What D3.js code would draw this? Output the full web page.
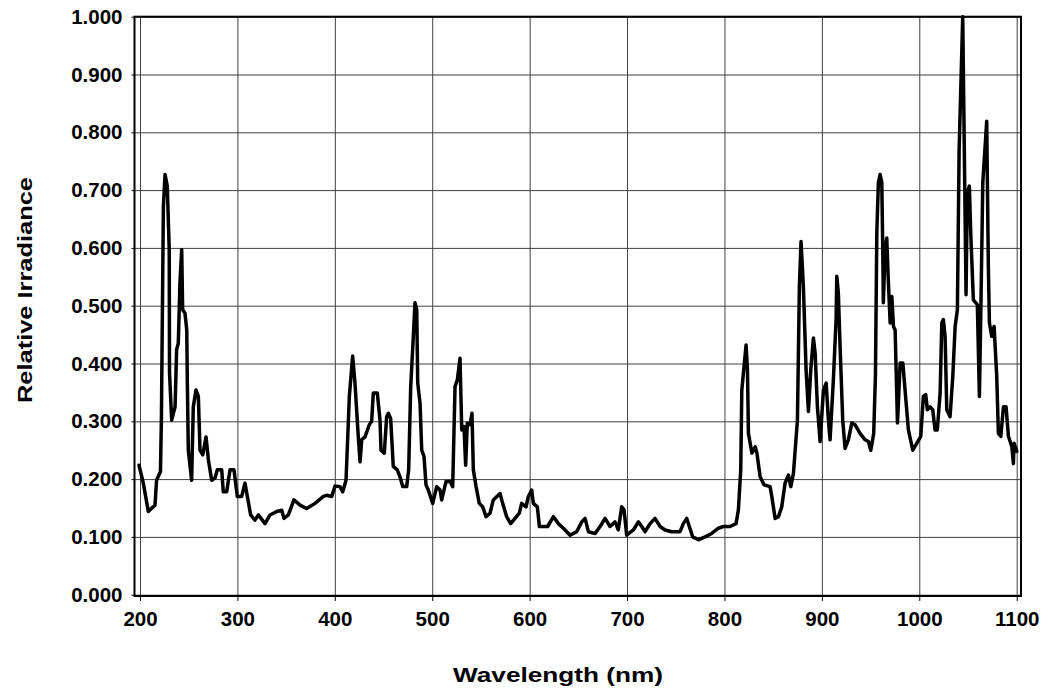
<!DOCTYPE html>
<html lang="en">
<head>
  <meta charset="UTF-8">
  <title>Relative Irradiance</title>
  <script src="https://d3js.org/d3.v7.min.js"></script>
  <style>
    body {
      margin: 0;
      background-color: #ffffff;
      font-family: 'Liberation Sans', Arial, sans-serif;
    }
    svg { display: block; }
    .axis text {
      font-family: 'Liberation Sans', Arial, sans-serif;
      font-weight: bold;
      font-size: 20.5px;
      fill: #000;
    }
    .axis path { display: none; }
    .axis line { stroke: #000; stroke-width: 1; }
    .grid line { stroke: #404040; stroke-width: 1; }
    .grid path { display: none; }
    .title {
      font-family: 'Liberation Sans', Arial, sans-serif;
      font-weight: bold;
      font-size: 21px;
      fill: #000;
    }
  </style>
</head>
<body>
  <svg width="1043" height="692"></svg>

  <script>
    // values
    const wavelength = [
      199, 203.4, 208.5, 215.4, 217, 221, 222, 224, 225.7, 228, 230, 230.3, 232.5, 236, 237.6, 239.3,
      241, 242.8, 243.8, 246.2, 248, 248.6, 249.6, 253, 254.7, 257.5, 259.9, 261.6, 264.4, 267.8, 270.2,
      273.6, 277, 279.4, 283.9, 285.5, 289, 292.4, 296.5, 299.9, 304.4, 307.8, 310.2, 313.6, 318, 321.5,
      328.3, 333.5, 340.3, 345.5, 347.8, 352.3, 358, 364.3, 371, 379.7, 388.2, 391.7, 396.8, 400.2, 405.3,
      408.1, 411.5, 414.9, 418.3, 420.7, 424.1, 425.9, 427.6, 431, 435.4, 437.8, 439.5, 443.6, 446.4, 447.4,
      450.8, 453.2, 454.9, 457.3, 460, 464.1, 466.9, 469.7, 473.8, 475.8, 477.9, 480.6, 482.3, 484.1, 485.1,
      487.5, 489.2, 491.6, 493.6, 496, 500.5, 504.6, 508, 509.7, 514.2, 518.3, 521, 523.4, 525.8, 528.5,
      530.3, 532.6, 534.3, 536, 538.8, 540.8, 542.2, 545, 548.3, 551.8, 555.2, 559.3, 562.7, 569.6, 572.3,
      576.4, 580.5, 585, 589.4, 591.8, 596.3, 598.7, 602.1, 603.8, 607.9, 610, 618.5, 624.4, 629.5, 634.6,
      641.5, 648.3, 653.5, 656.9, 660.3, 667.2, 672.3, 677.4, 682.5, 687.7, 691, 694.5, 696.9, 699.6, 706.5,
      711.6, 715.1, 718.5, 723.6, 728.7, 733.9, 739, 745.9, 754.4, 757.8, 761.3, 763.9, 767.4, 773.2, 780.1,
      786.9, 793.8, 798.9, 805.7, 811.9, 814.3, 816.7, 817.8, 820.1, 822.2, 823.6, 824.6, 828.2, 831.6, 833.3,
      836.6, 840.7, 846.8, 848.6, 852, 855.4, 858.8, 862.2, 865.7, 868.1, 870.8, 874.9, 876.9, 878.6, 881,
      883.8, 886.2, 888.6, 891.3, 893.1, 895.4, 898.2, 901.6, 904.4, 906.7, 908.4, 911.8, 914.6, 915.3, 916.9,
      918.7, 921.4, 923.8, 927.2, 930.7, 934.1, 939.2, 944.4, 947.8, 950.2, 953.2, 955, 956.4, 958, 959.8,
      961.5, 962.5, 963.1, 964.9, 966.6, 968.3, 970.1, 971.8, 973.5, 975.2, 977.6, 980.4, 983.1, 985.4, 988.8,
      993.3, 997.4, 1001.5, 1004.2, 1006.6, 1008.3, 1011.1, 1013.8, 1016.2, 1018.5, 1021.4, 1023.1, 1024.7, 1026.5, 1028.2,
      1031.6, 1034.4, 1036.8, 1039.1, 1040.9, 1044.6, 1048, 1049.3, 1051.4, 1052.8, 1055.5, 1059.6, 1061.7, 1063.1, 1065.2,
      1069.2, 1070.9, 1072, 1074.4, 1076.8, 1079.5, 1081.2, 1083.7, 1086.4, 1089.1, 1091.5, 1095, 1096.6, 1097.3, 1100.1
    ];
    const irradiance = [
      0.224, 0.193, 0.144, 0.155, 0.198, 0.213, 0.308, 0.672, 0.727, 0.707, 0.597, 0.384, 0.302, 0.325, 0.424, 0.435,
      0.539, 0.597, 0.493, 0.487, 0.458, 0.366, 0.250, 0.198, 0.325, 0.354, 0.343, 0.250, 0.242, 0.273, 0.233,
      0.198, 0.202, 0.216, 0.216, 0.178, 0.178, 0.216, 0.216, 0.170, 0.170, 0.193, 0.170, 0.138, 0.129, 0.138,
      0.123, 0.138, 0.144, 0.146, 0.132, 0.138, 0.164, 0.155, 0.149, 0.158, 0.170, 0.172, 0.170, 0.188, 0.187,
      0.178, 0.198, 0.343, 0.413, 0.366, 0.273, 0.230, 0.268, 0.273, 0.294, 0.300, 0.349, 0.349, 0.302, 0.250,
      0.245, 0.308, 0.314, 0.305, 0.222, 0.216, 0.204, 0.187, 0.187, 0.216, 0.360, 0.447, 0.505, 0.493, 0.366,
      0.331, 0.250, 0.239, 0.190, 0.181, 0.158, 0.187, 0.181, 0.164, 0.196, 0.196, 0.187, 0.360, 0.372, 0.409,
      0.285, 0.291, 0.224, 0.297, 0.294, 0.314, 0.216, 0.187, 0.158, 0.152, 0.135, 0.141, 0.164, 0.175, 0.158,
      0.135, 0.123, 0.132, 0.141, 0.158, 0.152, 0.170, 0.181, 0.158, 0.152, 0.118, 0.118, 0.135, 0.123, 0.115,
      0.103, 0.109, 0.126, 0.132, 0.109, 0.106, 0.118, 0.132, 0.118, 0.126, 0.112, 0.152, 0.147, 0.103, 0.112,
      0.126, 0.118, 0.109, 0.123, 0.132, 0.118, 0.112, 0.109, 0.109, 0.123, 0.132, 0.118, 0.100, 0.095, 0.100,
      0.106, 0.115, 0.118, 0.118, 0.123, 0.147, 0.216, 0.354, 0.395, 0.432, 0.389, 0.279, 0.245, 0.256, 0.245,
      0.204, 0.190, 0.187, 0.170, 0.132, 0.135, 0.152, 0.193, 0.207, 0.187, 0.210, 0.302, 0.533, 0.611, 0.533,
      0.389, 0.317, 0.389, 0.444, 0.418, 0.325, 0.265, 0.354, 0.366, 0.302, 0.268, 0.372, 0.476, 0.551, 0.522,
      0.429, 0.302, 0.253, 0.268, 0.297, 0.294, 0.279, 0.268, 0.265, 0.250, 0.279, 0.380, 0.626, 0.713, 0.727,
      0.713, 0.597, 0.505, 0.597, 0.617, 0.539, 0.470, 0.516, 0.464, 0.458, 0.297, 0.401, 0.401, 0.354, 0.285,
      0.250, 0.262, 0.274, 0.343, 0.346, 0.320, 0.325, 0.320, 0.285, 0.285, 0.349, 0.470, 0.476, 0.447, 0.320,
      0.308, 0.378, 0.464, 0.493, 0.770, 1.000, 0.519, 0.695, 0.707, 0.626, 0.510, 0.502, 0.343, 0.481, 0.713,
      0.819, 0.568, 0.470, 0.447, 0.464, 0.378, 0.279, 0.274, 0.325, 0.325, 0.274, 0.256, 0.227, 0.262, 0.248
    ];
    const xTicks = [200, 300, 400, 500, 600, 700, 800, 900, 1000, 1100];
    const yTicks = [0, 0.1, 0.2, 0.3, 0.4, 0.5, 0.6, 0.7, 0.8, 0.9, 1.0];

    const frame = { left: 134.5, right: 1021, top: 16.7, bottom: 596 };

    const svg = d3.select("svg");

    const x = d3.scaleLinear().domain([200, 1100]).range([140, 1016.7]);
    const y = d3.scaleLinear().domain([0, 1]).range([594.7, 16.7]);

    // grid
    svg.append("g")
      .attr("class", "grid")
      .attr("transform", `translate(0,${frame.bottom})`)
      .call(d3.axisBottom(x).tickValues(xTicks).tickSize(-(frame.bottom - frame.top)).tickFormat(""));

    svg.append("g")
      .attr("class", "grid")
      .attr("transform", `translate(${frame.left},0)`)
      .call(d3.axisLeft(y).tickValues(yTicks).tickSize(-(frame.right - frame.left)).tickFormat(""));

    // data line
    const points = wavelength.map((w, i) => [w, irradiance[i]]);
    svg.append("path")
      .datum(points)
      .attr("fill", "none")
      .attr("stroke", "#000")
      .attr("stroke-width", 3.5)
      .attr("stroke-linejoin", "round")
      .attr("stroke-linecap", "round")
      .attr("d", d3.line().x(d => x(d[0])).y(d => y(d[1])));

    // frame
    svg.append("rect")
      .attr("x", frame.left)
      .attr("y", frame.top)
      .attr("width", frame.right - frame.left)
      .attr("height", frame.bottom - frame.top)
      .attr("fill", "none")
      .attr("stroke", "#000")
      .attr("stroke-width", 2);

    // axes
    svg.append("g")
      .attr("class", "axis")
      .attr("transform", `translate(0,${frame.bottom})`)
      .call(d3.axisBottom(x).tickValues(xTicks).tickSize(5).tickPadding(10).tickFormat(d3.format("d")));

    svg.append("g")
      .attr("class", "axis")
      .attr("transform", `translate(${frame.left},0)`)
      .call(d3.axisLeft(y).tickValues(yTicks).tickSize(3).tickPadding(9).tickFormat(d3.format(".3f")));

    // titles (the reference lettering is wider than the font, so stretch to its measured length)
    svg.append("text")
      .attr("class", "title")
      .attr("x", 558)
      .attr("y", 682)
      .attr("text-anchor", "middle")
      .attr("textLength", 210)
      .attr("lengthAdjust", "spacingAndGlyphs")
      .text("Wavelength (nm)");

    svg.append("text")
      .attr("class", "title")
      .attr("transform", "translate(32,290) rotate(-90)")
      .attr("text-anchor", "middle")
      .attr("textLength", 226)
      .attr("lengthAdjust", "spacingAndGlyphs")
      .text("Relative Irradiance");
  </script>
</body>
</html>
